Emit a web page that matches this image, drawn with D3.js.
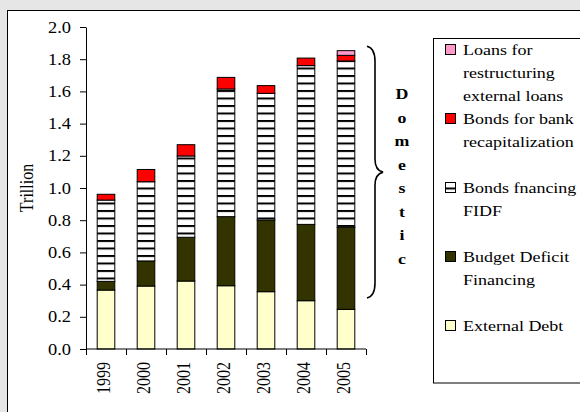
<!DOCTYPE html>
<html><head><meta charset="utf-8">
<script src="https://cdn.jsdelivr.net/npm/d3@7"></script>
<style>
html,body{margin:0;padding:0;background:#e6e6e6;}
svg{display:block;}
text{font-family:"Liberation Serif","Times New Roman",serif;fill:#000;}
</style></head>
<body>
<svg id="c" width="580" height="412"></svg>
<script>
const years = ["1999","2000","2001","2002","2003","2004","2005"];
const externalDebt   = [0.366,0.391,0.422,0.393,0.356,0.300,0.246];
const budgetDeficit  = [0.054,0.156,0.272,0.429,0.445,0.474,0.510];
const bondsFIDF      = [0.505,0.492,0.505,0.793,0.787,0.986,1.033];
const bondsRecap     = [0.036,0.076,0.070,0.072,0.048,0.047,0.035];
const loansRestruct  = [0,0,0,0,0,0,0.029];
const yTicks = [0,0.2,0.4,0.6,0.8,1.0,1.2,1.4,1.6,1.8,2.0];
const seriesKeys = ["ext","budget","fidf","recap","loans"];
const legendLabels = [
  {key:"loans", lines:["Loans for","restructuring","external loans"]},
  {key:"recap", lines:["Bonds for bank","recapitalization"]},
  {key:"fidf", lines:["Bonds fnancing","FIDF"]},
  {key:"budget", lines:["Budget Deficit","Financing"]},
  {key:"ext", lines:["External Debt"]}
];
const fills = {ext:"#ffffcc", budget:"#333300", fidf:"url(#hatch)", recap:"#ff0000", loans:"#ff99cc"};

const rows = years.map((yr,i)=>({year:yr, ext:externalDebt[i], budget:budgetDeficit[i], fidf:bondsFIDF[i], recap:bondsRecap[i], loans:loansRestruct[i]}));

const svg = d3.select("#c");
const SX = 1.15;
const SXL = 1.2;

// defs: hatch pattern
const defs = svg.append("defs");
const pat = defs.append("pattern").attr("id","hatch").attr("patternUnits","userSpaceOnUse")
  .attr("width",8).attr("height",7.5);
pat.append("rect").attr("width",8).attr("height",7.5).attr("fill","#fff");
pat.append("rect").attr("y",0).attr("width",8).attr("height",2).attr("fill","#000");

// outer frame
svg.append("rect").attr("x",7.5).attr("y",10.5).attr("width",620).attr("height",420)
  .attr("fill","#fff").attr("stroke","#000").attr("stroke-width",1);

const x = d3.scaleBand().domain(years).range([86,366]).padding(0);
const y = d3.scaleLinear().domain([0,2]).range([349,27]);
const barW = x.bandwidth()*0.44;

const stack = d3.stack().keys(seriesKeys)(rows);
const g = svg.append("g");
stack.forEach(layer=>{
  g.selectAll(null).data(layer.filter(d=>d[1]-d[0]>0)).enter().append("rect")
    .attr("x",d=>x(d.data.year)+(x.bandwidth()-barW)/2)
    .attr("y",d=>y(d[1]))
    .attr("width",barW)
    .attr("height",d=>y(d[0])-y(d[1]))
    .attr("fill",fills[layer.key])
    .attr("stroke","#000").attr("stroke-width",1);
});

// y axis
const yAxis = svg.append("g").attr("transform","translate(86,0)")
  .call(d3.axisLeft(y).tickValues(yTicks).tickFormat(d3.format(".1f")).tickSize(6).tickSizeOuter(0));
yAxis.select(".domain").attr("stroke","#000");
yAxis.selectAll(".tick line").attr("stroke","#000");
yAxis.selectAll(".tick text").attr("x",null).attr("dy",null)
  .attr("transform",`translate(-15,0) scale(${SX},1)`)
  .attr("dominant-baseline","central")
  .style("font-family",'"Liberation Serif",serif').style("font-size","16px").attr("fill","#000");

// x axis
const x0 = y(0);
svg.append("line").attr("x1",86).attr("x2",366).attr("y1",x0).attr("y2",x0).attr("stroke","#000");
const bounds = years.map(d=>x(d)).concat([x.range()[1]]);
svg.selectAll(null).data(bounds).enter().append("line")
  .attr("x1",d=>d+0.5).attr("x2",d=>d+0.5).attr("y1",x0).attr("y2",x0+6).attr("stroke","#000");
svg.selectAll(null).data(years).enter().append("text")
  .attr("transform",d=>`translate(${x(d)+x.bandwidth()/2-2},362) rotate(-90) scale(1,${SX})`)
  .attr("text-anchor","end").attr("dominant-baseline","central")
  .style("font-size","16px").text(d=>d);

// y label
svg.append("text").attr("transform",`translate(27,188) rotate(-90) scale(1,${SX})`)
  .attr("text-anchor","middle").attr("dominant-baseline","central")
  .style("font-size","16px").text("Trillion");

// brace
const bt = y(1.88), bb = y(0.317), bm = (bt+bb)/2;
svg.append("path")
  .attr("d",`M367,${bt} Q375,${bt+2} 375,${bt+15} L375,${bm-13} Q375,${bm-2} 383,${bm} Q375,${bm+2} 375,${bm+13} L375,${bb-15} Q375,${bb-2} 367,${bb}`)
  .attr("fill","none").attr("stroke","#000").attr("stroke-width",1.6);

// Domestic
const letters = "Domestic".split("");
svg.selectAll(null).data(letters).enter().append("text")
  .attr("transform",(d,i)=>`translate(402,${94+i*23.5}) scale(${SX},1)`)
  .attr("text-anchor","middle").attr("dominant-baseline","central")
  .style("font-size","15.5px").style("font-weight","bold").text(d=>d);

// legend
svg.append("rect").attr("x",433.5).attr("y",38.5).attr("width",200).attr("height",344.5)
  .attr("fill","#fff").attr("stroke","#000");
const lh = 23;
let line = 0;
const base0 = 55;
legendLabels.forEach((e,k)=>{
  const by = base0 + line*lh;
  svg.append("rect").attr("x",445.5).attr("y",by-10.5).attr("width",10).attr("height",10)
    .attr("fill",fills[e.key]).attr("stroke","#000");
  e.lines.forEach((t,j)=>{
    svg.append("text").attr("transform",`translate(463,${by+j*lh}) scale(${SXL},1)`)
      .style("font-size","15px").text(t);
  });
  line += e.lines.length + (k===0 ? 0 : 1);
});
</script>
</body></html>
